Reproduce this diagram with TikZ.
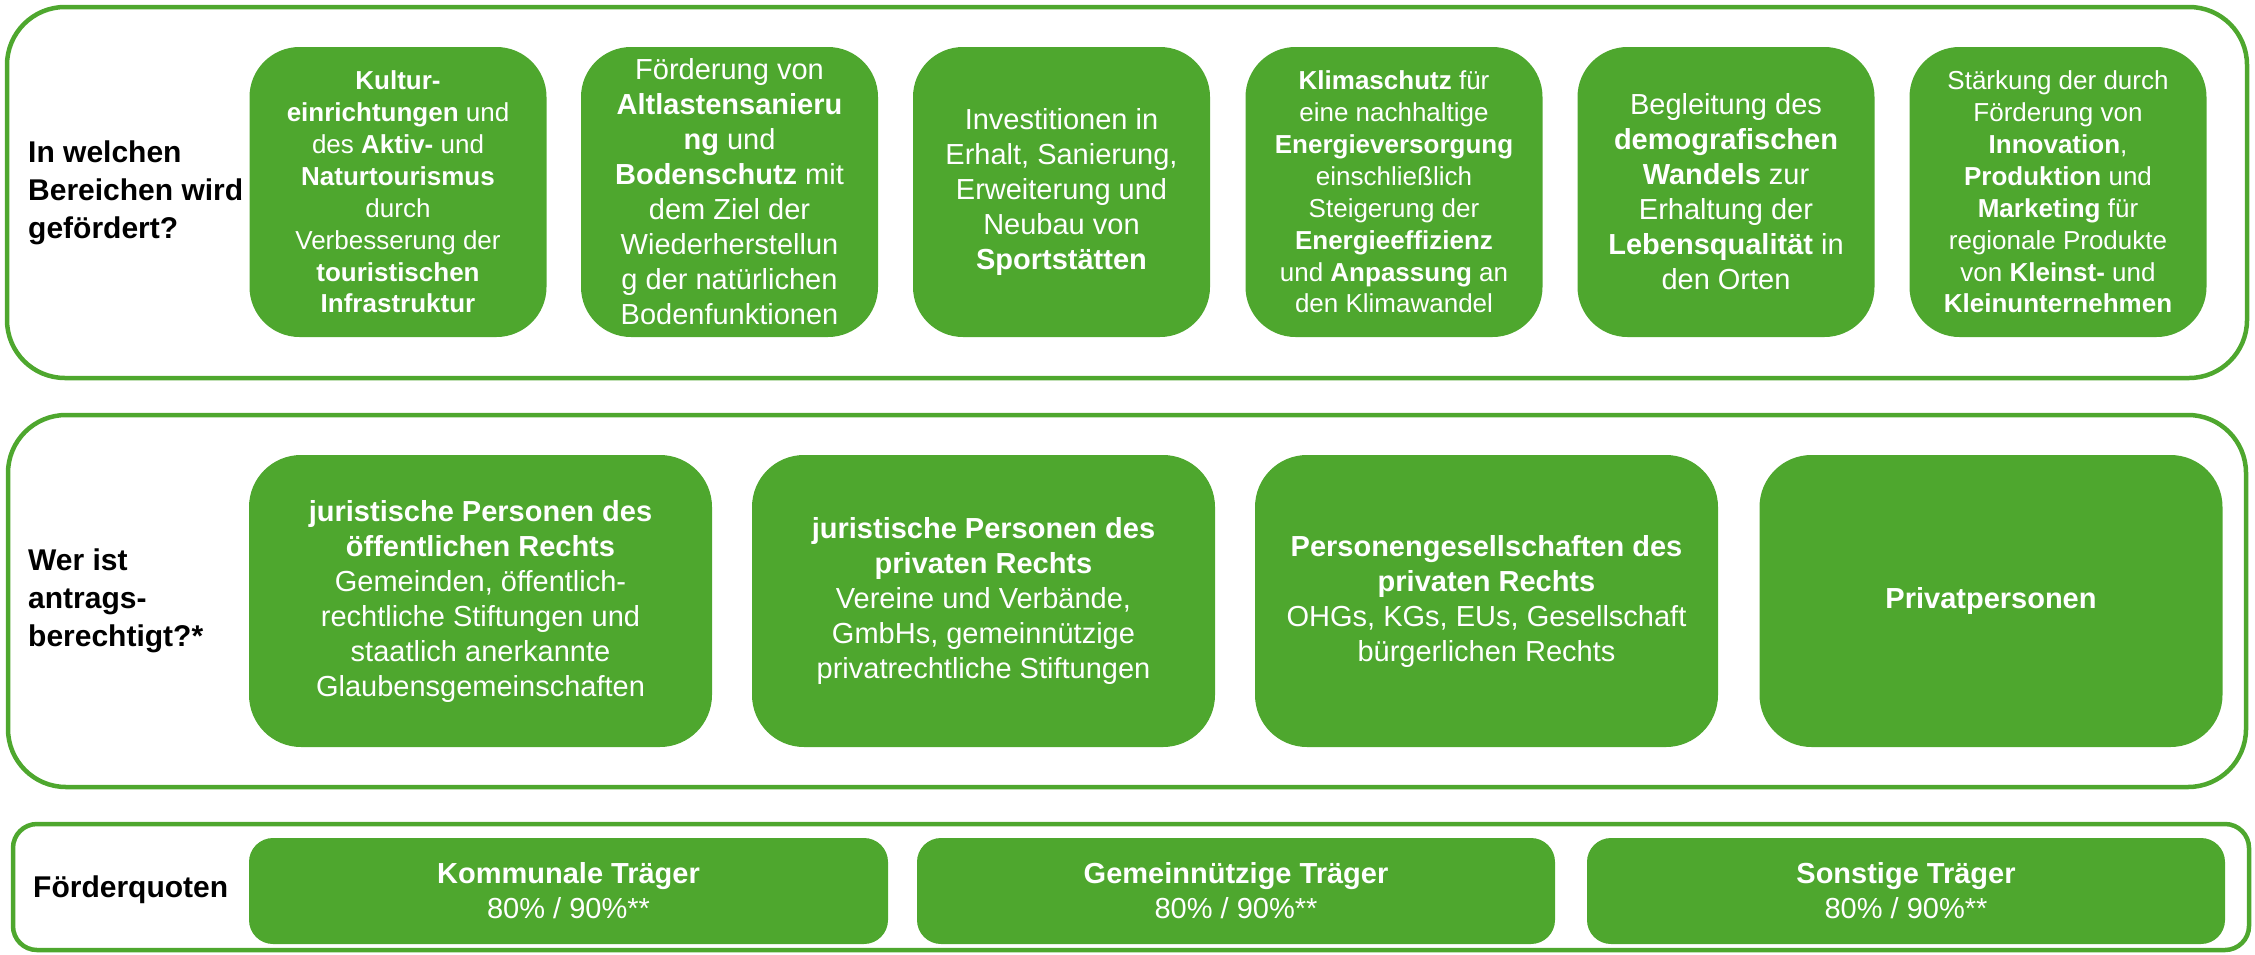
\documentclass[tikz,border=0pt]{standalone}
\usepackage{fontspec}
\setmainfont{Liberation Sans}
\definecolor{lgreen}{RGB}{78,167,46}
\newcommand\myfA{\fontsize{26}{31.9}\selectfont}
\newcommand\myfB{\fontsize{29}{35}\selectfont}
\newcommand\myfL{\fontsize{30}{38}\selectfont\bfseries}
\begin{document}
\begin{tikzpicture}[x=1pt,y=-1pt,
  panel/.style={draw=lgreen, line width=4.5pt, rounded corners=58pt, inner sep=0pt},
  botpanel/.style={draw=lgreen, line width=4.5pt, rounded corners=24pt, inner sep=0pt},
  greenbox/.style={fill=lgreen, text=white, align=center, inner sep=0pt},
  topbox/.style={greenbox, rounded corners=50pt, minimum width=297pt, minimum height=290pt},
  midbox/.style={greenbox, rounded corners=52pt, minimum width=463pt, minimum height=292pt, font=\myfB},
  quotebox/.style={greenbox, rounded corners=24pt, minimum width=638pt, minimum height=106pt, font=\myfB},
  label/.style={anchor=west, align=left, font=\myfL, text=black, inner sep=0pt}]
\useasboundingbox (0,0) rectangle (2255,954);

% panels
\node[panel, minimum width=2240pt, minimum height=371pt] (p1) at (1127,192.5) {};
\node[panel, minimum width=2238pt, minimum height=372pt] (p2) at (1127,601) {};
\node[botpanel, minimum width=2236pt, minimum height=126pt] (p3) at (1131,887) {};

% labels
\node[label] (l1) at (28,193) {In welchen\\Bereichen wird\\gefördert?};
\node[label] (l2) at (28,601) {Wer ist\\antrags-\\berechtigt?*};
\node[label] (l3) at (33,890) {Förderquoten};

% top boxes
\node[topbox, font=\myfA] (t1) at (398,192) {\textbf{Kultur-}\\\textbf{einrichtungen} und\\des \textbf{Aktiv-} und\\\textbf{Naturtourismus}\\durch\\Verbesserung der\\\textbf{touristischen}\\\textbf{Infrastruktur}};
\node[topbox, font=\myfB] (t2) at (729.5,192) {Förderung von\\\textbf{Altlastensanieru}\\\textbf{ng} und\\\textbf{Bodenschutz} mit\\dem Ziel der\\Wiederherstellun\\g der natürlichen\\Bodenfunktionen};
\node[topbox, font=\myfB] (t3) at (1061.5,192) {Investitionen in\\Erhalt, Sanierung,\\Erweiterung und\\Neubau von\\\textbf{Sportstätten}};
\node[topbox, font=\myfA] (t4) at (1394,192) {\textbf{Klimaschutz} für\\eine nachhaltige\\\textbf{Energieversorgung}\\einschließlich\\Steigerung der\\\textbf{Energieeffizienz}\\und \textbf{Anpassung} an\\den Klimawandel};
\node[topbox, font=\myfB] (t5) at (1726,192) {Begleitung des\\\textbf{demografischen}\\\textbf{Wandels} zur\\Erhaltung der\\\textbf{Lebensqualität} in\\den Orten};
\node[topbox, font=\myfA] (t6) at (2058,192) {Stärkung der durch\\Förderung von\\\textbf{Innovation},\\\textbf{Produktion} und\\\textbf{Marketing} für\\regionale Produkte\\von \textbf{Kleinst-} und\\\textbf{Kleinunternehmen}};

% middle boxes
\node[midbox] (m1) at (480.5,601) {\textbf{juristische Personen des}\\\textbf{öffentlichen Rechts}\\Gemeinden, öffentlich-\\rechtliche Stiftungen und\\staatlich anerkannte\\Glaubensgemeinschaften};
\node[midbox] (m2) at (983.5,601) {\textbf{juristische Personen des}\\\textbf{privaten Rechts}\\Vereine und Verbände,\\GmbHs, gemeinnützige\\privatrechtliche Stiftungen};
\node[midbox] (m3) at (1486.5,601) {\textbf{Personengesellschaften des}\\\textbf{privaten Rechts}\\OHGs, KGs, EUs, Gesellschaft\\bürgerlichen Rechts};
\node[midbox] (m4) at (1991,601) {\textbf{Privatpersonen}};

% bottom boxes
\node[quotebox, minimum width=639pt] (q1) at (568.5,891) {\textbf{Kommunale Träger}\\80\% / 90\%**};
\node[quotebox] (q2) at (1236,891) {\textbf{Gemeinnützige Träger}\\80\% / 90\%**};
\node[quotebox] (q3) at (1906,891) {\textbf{Sonstige Träger}\\80\% / 90\%**};
\end{tikzpicture}
\end{document}
